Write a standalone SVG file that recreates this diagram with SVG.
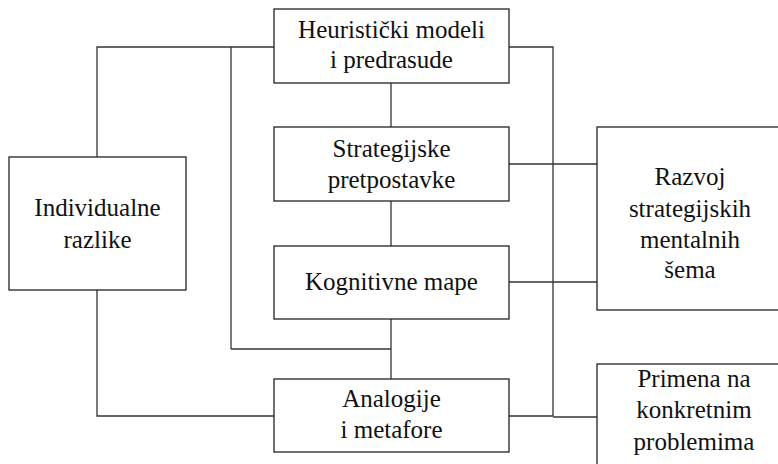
<svg xmlns="http://www.w3.org/2000/svg" width="778" height="464" viewBox="0 0 778 464">
<style>
.box{fill:#fff;stroke:#222;stroke-width:1.3}
.ln{fill:none;stroke:#333;stroke-width:1.3}
.t{font-family:"Liberation Serif","Times New Roman",serif;font-size:25px;fill:#111;text-anchor:middle}
</style>
<rect width="778" height="464" fill="#fff"/>
<g id="connectors">
<polyline class="ln" points="274,47 97,47 97,157"/>
<polyline class="ln" points="97,290 97,416 274,416"/>
<line class="ln" x1="231" y1="47" x2="231" y2="349"/>
<line class="ln" x1="231" y1="349" x2="391" y2="349"/>
<line class="ln" x1="391" y1="83" x2="391" y2="127"/>
<line class="ln" x1="391" y1="201" x2="391" y2="246"/>
<line class="ln" x1="391" y1="319" x2="391" y2="379"/>
<polyline class="ln" points="509,47 553,47 553,416"/>
<line class="ln" x1="509" y1="416" x2="553" y2="416"/>
<line class="ln" x1="553" y1="417" x2="597" y2="417"/>
<line class="ln" x1="509" y1="164" x2="597" y2="164"/>
<line class="ln" x1="509" y1="282" x2="597" y2="282"/>
</g>
<g id="heuristicki">
<rect class="box" x="274" y="9" width="235" height="74"/>
<text class="t" x="391.5" y="38">Heuristički modeli</text>
<text class="t" x="391.5" y="68">i predrasude</text>
</g>
<g id="strategijske">
<rect class="box" x="274" y="127" width="235" height="74"/>
<text class="t" x="391.5" y="157">Strategijske</text>
<text class="t" x="391.5" y="188">pretpostavke</text>
</g>
<g id="kognitivne">
<rect class="box" x="274" y="246" width="235" height="73"/>
<text class="t" x="391.5" y="290">Kognitivne mape</text>
</g>
<g id="analogije">
<rect class="box" x="274" y="379" width="235" height="73"/>
<text class="t" x="391.5" y="407">Analogije</text>
<text class="t" x="391.5" y="438">i metafore</text>
</g>
<g id="individualne">
<rect class="box" x="9" y="157" width="177" height="133"/>
<text class="t" x="97.5" y="216">Individualne</text>
<text class="t" x="97.5" y="248">razlike</text>
</g>
<g id="razvoj">
<rect class="box" x="597" y="127" width="188" height="183"/>
<text class="t" x="690" y="185">Razvoj</text>
<text class="t" x="690" y="217">strategijskih</text>
<text class="t" x="690" y="248">mentalnih</text>
<text class="t" x="690" y="278">šema</text>
</g>
<g id="primena">
<rect class="box" x="597" y="364" width="188" height="110"/>
<text class="t" x="694" y="387">Primena na</text>
<text class="t" x="694" y="418">konkretnim</text>
<text class="t" x="694" y="450">problemima</text>
</g>
</svg>
